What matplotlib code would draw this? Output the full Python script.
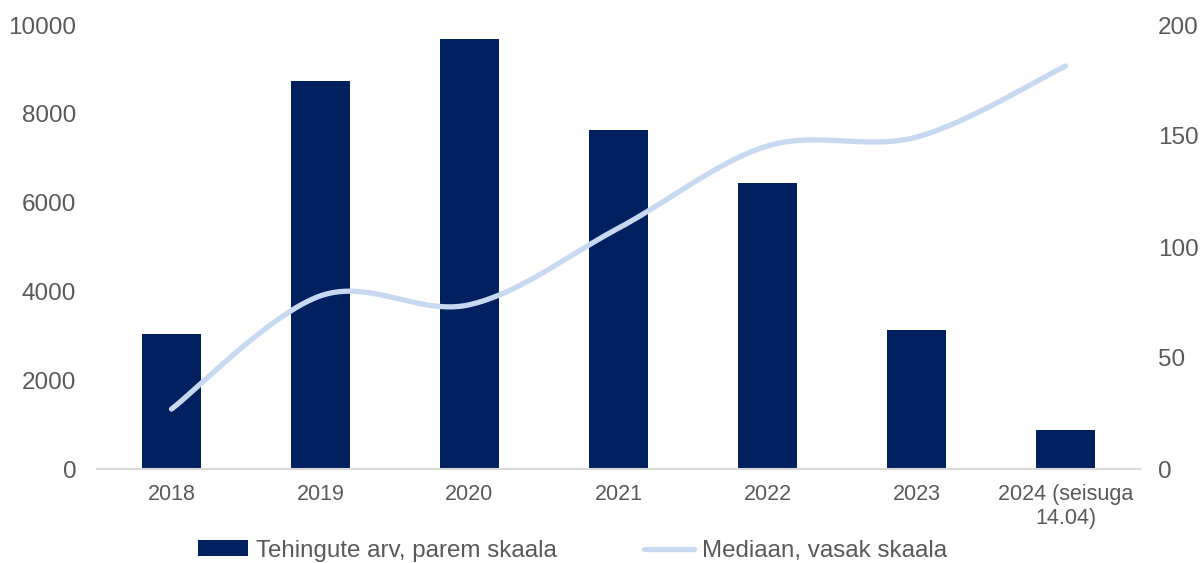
import numpy as np
import matplotlib.pyplot as plt

plt.rcParams['font.family'] = ['Liberation Sans', 'DejaVu Sans']

years = ['2018', '2019', '2020', '2021', '2022', '2023', '2024 (seisuga\n14.04)']
tehingud = [3050, 8740, 9690, 7640, 6440, 3130, 880]
mediaan = [27, 78, 74, 108.5, 145.5, 149.5, 181.5]

BAR_COLOR = '#002060'
LINE_COLOR = '#C6D9F0'
TEXT_COLOR = '#595959'


def smooth(x, y, n=40):
    # Excel-style smoothed line: cubic Bezier with Catmull-Rom control points
    x = np.asarray(x, float)
    y = np.asarray(y, float)
    px = np.concatenate([[x[0]], x, [x[-1]]])
    py = np.concatenate([[y[0]], y, [y[-1]]])
    xs, ys = [], []
    t = np.linspace(0, 1, n)
    for i in range(1, len(px) - 2):
        p0 = np.array([px[i], py[i]])
        p3 = np.array([px[i + 1], py[i + 1]])
        p1 = p0 + (np.array([px[i + 1], py[i + 1]]) - np.array([px[i - 1], py[i - 1]])) / 6
        p2 = p3 - (np.array([px[i + 2], py[i + 2]]) - np.array([px[i], py[i]])) / 6
        b = ((1 - t) ** 3)[:, None] * p0 + (3 * (1 - t) ** 2 * t)[:, None] * p1 \
            + (3 * (1 - t) * t ** 2)[:, None] * p2 + (t ** 3)[:, None] * p3
        xs.extend(b[:, 0])
        ys.extend(b[:, 1])
    return xs, ys


fig = plt.figure(figsize=(12.03, 5.63), dpi=100)
ax = fig.add_axes([97 / 1203, 94 / 563, 1043 / 1203, 444 / 563])
ax2 = ax.twinx()

x = np.arange(len(years))
bars = ax.bar(x, tehingud, width=0.40, color=BAR_COLOR, label='Tehingute arv, parem skaala', zorder=2)
sx, sy = smooth(x, mediaan)
line, = ax2.plot(sx, sy, color=LINE_COLOR, lw=3.8, solid_capstyle='round',
                 label='Mediaan, vasak skaala', zorder=3)

ax.set_xlim(-0.5, len(years) - 0.5)
ax.set_ylim(0, 10000)
ax2.set_ylim(0, 200)
ax.set_yticks(range(0, 10001, 2000))
ax2.set_yticks(range(0, 201, 50))
ax.set_xticks(x)
ax.set_xticklabels(years, fontsize=15.5, color=TEXT_COLOR)

for a in (ax, ax2):
    for s in a.spines.values():
        s.set_visible(False)
    a.tick_params(length=0)
ax.spines['bottom'].set_visible(True)
ax.spines['bottom'].set_color('#D9D9D9')
ax.spines['bottom'].set_linewidth(1.5)

ax.tick_params(axis='y', labelsize=17.5, labelcolor=TEXT_COLOR, pad=15)
ax2.tick_params(axis='y', labelsize=17.5, labelcolor=TEXT_COLOR, pad=13)
ax.tick_params(axis='x', pad=11)

ax2.set_zorder(ax.get_zorder() + 1)
ax2.patch.set_visible(False)

fig.legend([bars, line], ['Tehingute arv, parem skaala', 'Mediaan, vasak skaala'],
           loc='center', bbox_to_anchor=(0.476, 0.022), ncol=2, frameon=False,
           fontsize=17.4, labelcolor=TEXT_COLOR, handlelength=2.07, handleheight=0.6,
           columnspacing=3.6, handletextpad=0.33)

fig.savefig('out.png', dpi=100)
